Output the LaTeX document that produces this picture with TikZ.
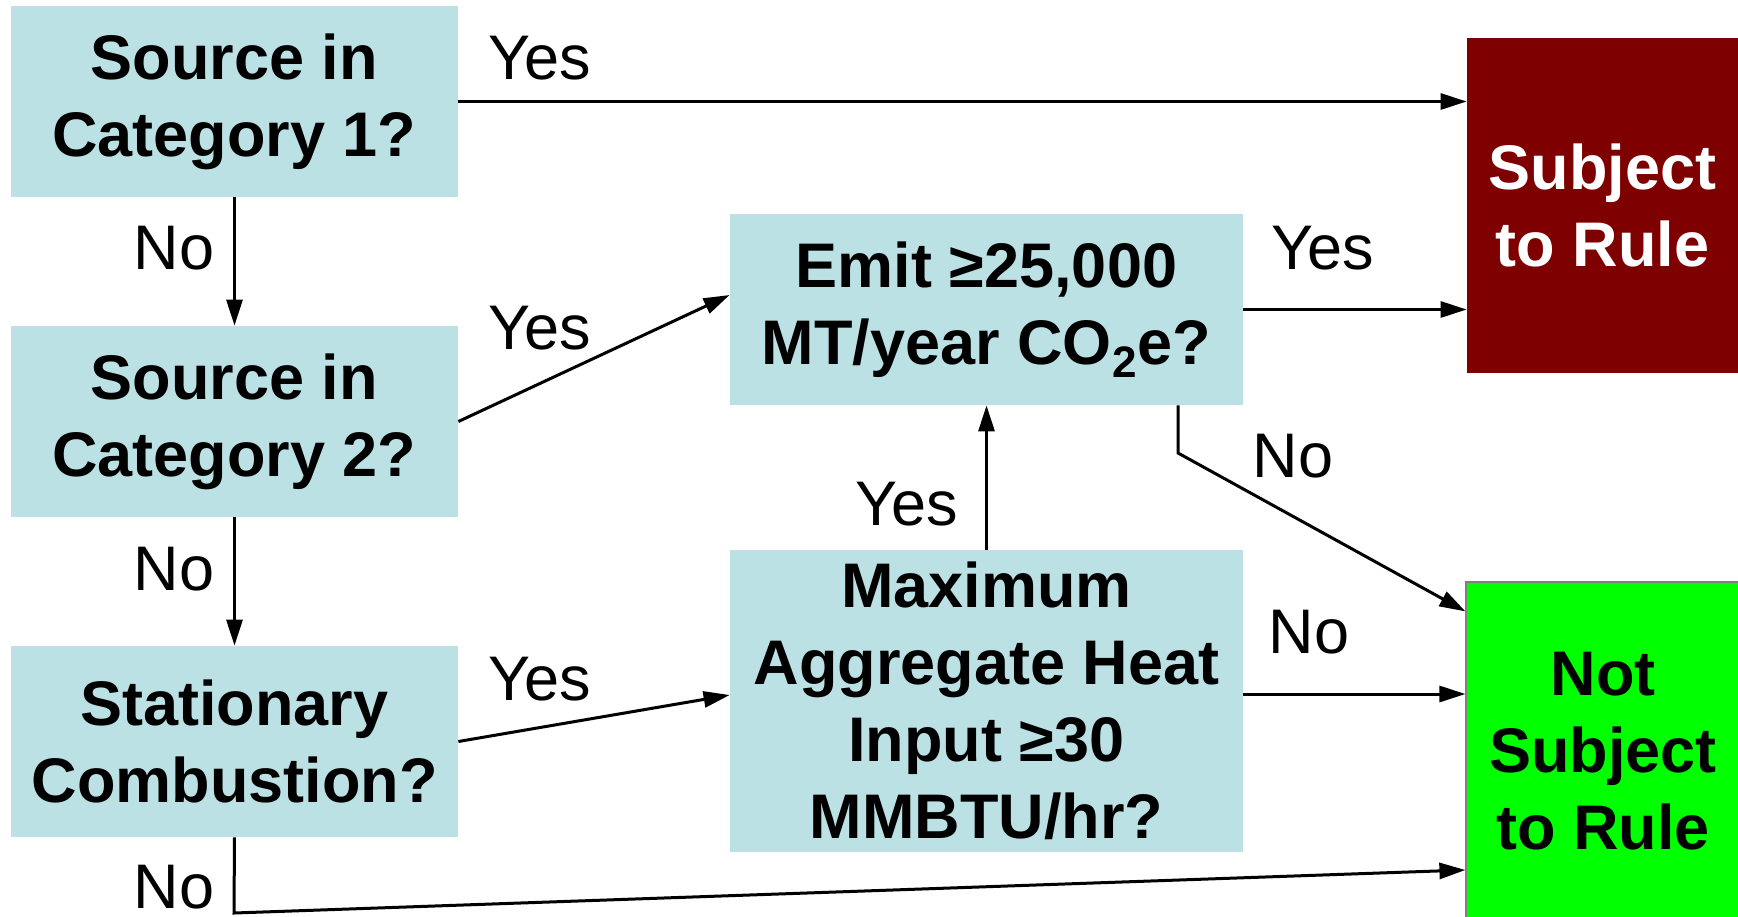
\documentclass[tikz,border=0pt]{standalone}
\usepackage{fontspec}
\setmainfont{Liberation Sans}
\usetikzlibrary{arrows.meta}
\definecolor{boxblue}{RGB}{188,225,228}
\definecolor{darkred}{RGB}{127,0,0}
\definecolor{brightgreen}{RGB}{0,255,0}
\begin{document}
\begin{tikzpicture}[x=0.5pt,y=-0.5pt,
  box/.style={rectangle, fill=boxblue, inner sep=0pt, align=center, font=\fontsize{31.5}{38.5}\selectfont\bfseries},
  arr/.style={line width=1.5pt, -{Triangle[length=13pt,width=8pt]}},
  lbl/.style={font=\fontsize{31.5}{38}\selectfont, inner sep=0pt}]
\useasboundingbox (0,0) rectangle (1738,916);
\clip (0,0) rectangle (1738,916);
\fill[white] (0,0) rectangle (1738,916);
% boxes
\node[box, minimum width=223.5pt, minimum height=95.5pt] (cat1) at (234.5,101.5) {Source in\\Category 1?};
\node[box, minimum width=223.5pt, minimum height=95.5pt] (cat2) at (234.5,421.5) {Source in\\Category 2?};
\node[box, minimum width=223.5pt, minimum height=95.5pt] (stat) at (234.5,741.5) {Stationary\\Combustion?};
\node[box, minimum width=256.5pt, minimum height=95.5pt] (emit) at (986.5,309.5) {Emit ≥25,000\\MT/year CO\textsubscript{2}e?};
\node[box, minimum width=256.5pt, minimum height=151pt] (max) at (986.5,701) {Maximum\\Aggregate Heat\\Input ≥30\\MMBTU/hr?};
\node[box, fill=darkred, text=white, minimum width=135.5pt, minimum height=167.5pt] (subj) at (1602.5,205.5) {Subject\\to Rule};
\node[box, fill=brightgreen, draw=gray, line width=0.6pt, minimum width=137pt, minimum height=169pt] (notsubj) at (1603,751) {Not\\Subject\\to Rule};
% connectors
\draw[arr] (cat1.east) -- (cat1.east -| subj.west);
\draw[arr] (cat1.south) -- (cat2.north);
\draw[arr] (cat2.south) -- (stat.north);
\draw[arr] (cat2.east) -- ([yshift=7.25pt]emit.west);
\draw[arr] (emit.east) -- (emit.east -| subj.west);
\draw[arr] (stat.east) -- ([yshift=3pt]max.west);
\draw[arr] (max.north) -- (emit.south);
\coordinate (ebend) at (1178,453);
\draw[arr] ([xshift=95.75pt]emit.south) -- (ebend) -- ([yshift=-15pt]notsubj.north west);
\draw[arr] ([yshift=3.5pt]max.east) -- ([yshift=3.5pt]max.east -| notsubj.west);
\coordinate (sbend) at (234,913);
\draw[arr] (stat.south) -- (sbend) -- ([yshift=-59.5pt]notsubj.west);
% labels
\node[lbl] (l1) at (540,58) {Yes};
\node[lbl] (l2) at (174,248) {No};
\node[lbl] (l3) at (540,328) {Yes};
\node[lbl] (l4) at (1323,248) {Yes};
\node[lbl] (l5) at (1293,456) {No};
\node[lbl] (l6) at (907,504) {Yes};
\node[lbl] (l7) at (174,569) {No};
\node[lbl] (l8) at (1309,632) {No};
\node[lbl] (l9) at (540,679) {Yes};
\node[lbl] (l10) at (174,887) {No};
\end{tikzpicture}
\end{document}
